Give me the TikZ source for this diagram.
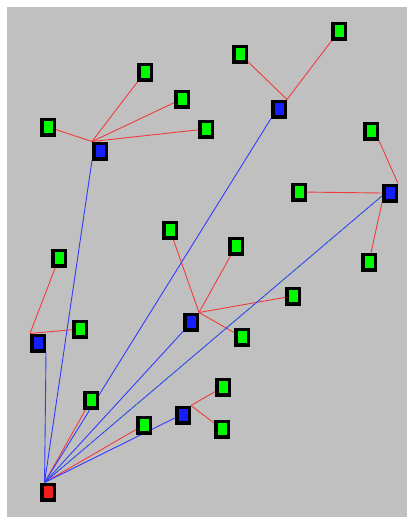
\documentclass[tikz,border=0pt]{standalone}
\usetikzlibrary{calc}
\pgfdeclarelayer{bg}
\pgfdeclarelayer{lines}
\pgfsetlayers{bg,lines,main}
\definecolor{bggray}{RGB}{192,192,192}
\definecolor{ngreen}{RGB}{0,250,0}
\definecolor{nblue}{RGB}{20,30,255}
\definecolor{nred}{RGB}{240,30,30}
\definecolor{lred}{RGB}{240,60,60}
\definecolor{lblue}{RGB}{50,60,255}
\definecolor{lgreen}{RGB}{40,200,40}
\tikzset{
  box/.style={rectangle, draw=black, line width=3.5pt, minimum width=12.5pt, minimum height=15.5pt, inner sep=0pt},
  gn/.style={box, fill=ngreen},
  bn/.style={box, fill=nblue},
  rn/.style={box, fill=nred},
  redline/.style={draw=lred, line width=0.9pt},
  blueline/.style={draw=lblue, line width=0.9pt},
}
\begin{document}
\begin{tikzpicture}[x=1pt,y=-1pt]
\useasboundingbox (0,0) rectangle (407,517);
\begin{pgfonlayer}{bg}
  \fill[white] (0,0) rectangle (407,517);
  \fill[bggray] (7,7) rectangle (407,517);
\end{pgfonlayer}
% nodes
\node[gn] (A) at (48,127) {};
\node[gn] (B) at (145,72) {};
\node[gn] (C) at (182,99) {};
\node[gn] (D) at (206,129) {};
\node[bn] (E) at (100,151) {};
\node[gn] (F) at (240,54) {};
\node[gn] (G) at (339,31) {};
\node[bn] (H) at (279,109) {};
\node[gn] (I) at (371,131) {};
\node[bn] (J) at (390,193) {};
\node[gn] (K) at (299,192) {};
\node[gn] (L) at (369,262) {};
\node[gn] (M) at (170,230) {};
\node[gn] (N) at (236,246) {};
\node[gn] (O) at (293,296) {};
\node[bn] (P) at (191,322) {};
\node[gn] (Q) at (242,337) {};
\node[gn] (R) at (59,258) {};
\node[gn] (S) at (80,329) {};
\node[bn] (T) at (38,343) {};
\node[gn] (U) at (91,400) {};
\node[gn] (V) at (144,425) {};
\node[bn] (W) at (183,415) {};
\node[gn] (X) at (223,387) {};
\node[gn] (Y) at (222,429) {};
\node[rn] (Z) at (48,492) {};
\begin{pgfonlayer}{lines}
  % red tree edges
  \foreach \c in {A,B,C,D} \draw[redline] (\c) -- (E.north west);
  \foreach \c in {F,G} \draw[redline] (\c) -- (H.north east);
  \draw[redline] (I.south east) -- (J.north east);
  \draw[redline] (K) -- (J.west);
  \draw[redline] (L) -- (J.south west);
  \foreach \c in {M,N,O,Q} \draw[redline] (\c) -- (P.north east);
  \foreach \c in {R,S} \draw[redline] (\c) -- (T.north west);
  \foreach \c in {X,Y} \draw[redline] (\c) -- (W.north east);
  \draw[redline] (U) -- (Z.110);
  \draw[redline] (V) -- (Z.110);
  % blue edges from root
  \draw[blueline] (Z.110) -- (T.south east);
  \draw[blueline] (Z.110) -- (E.south west);
  \draw[blueline] (Z.110) -- (H.south west);
  \draw[blueline] (Z.110) -- (P.south west);
  \draw[blueline] (Z.110) -- (W.200);
  \draw[blueline] (Z.110) -- (J.200);
  \draw[lgreen, line width=0.6pt, dash pattern=on 1pt off 5pt] (Z.110) -- (J.200);
\end{pgfonlayer}
\end{tikzpicture}
\end{document}
